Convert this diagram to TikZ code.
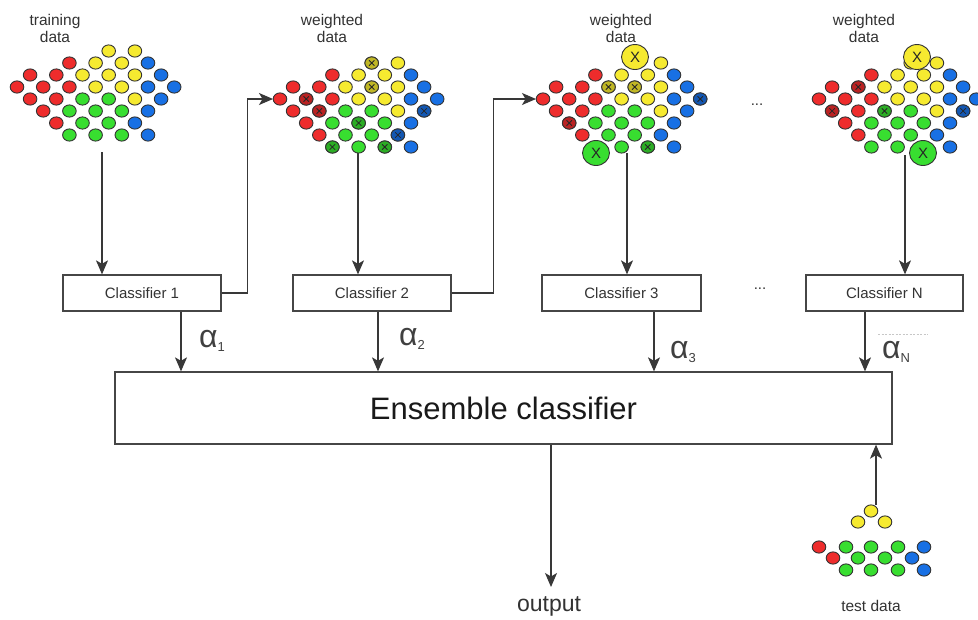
\documentclass[tikz,border=0pt]{standalone}
\usepackage{fontspec}
\setmainfont{Liberation Sans}
\usetikzlibrary{arrows.meta,calc}

\definecolor{dotR}{RGB}{238,44,44}
\definecolor{dotY}{RGB}{246,234,48}
\definecolor{dotG}{RGB}{56,222,48}
\definecolor{dotB}{RGB}{24,112,228}
\definecolor{edge}{RGB}{70,70,70}
\definecolor{ink}{RGB}{51,51,51}

% row / column / colour of every point of a data set (diamond layout)
\newcommand{\basepattern}{0/7/Y,0/9/Y,
  1/4/R,1/6/Y,1/8/Y,1/10/B,
  2/1/R,2/3/R,2/5/Y,2/7/Y,2/9/Y,2/11/B,
  3/0/R,3/2/R,3/4/R,3/6/Y,3/8/Y,3/10/B,3/12/B,
  4/1/R,4/3/R,4/5/G,4/7/G,4/9/Y,4/11/B,
  5/2/R,5/4/G,5/6/G,5/8/G,5/10/B,
  6/3/R,6/5/G,6/7/G,6/9/B,
  7/4/G,7/6/G,7/8/G,7/10/B}

\newcommand{\rx}{6.8pt}
\newcommand{\ry}{6.1pt}

% whole data set with its left/top origin
\newcommand{\drawcluster}[2]{%
  \foreach \r/\k/\c in \basepattern {
    \draw[smalldot, fill=dot\c] ({#1+13.1*\k},{#2+12*\r}) ellipse [x radius=\rx, y radius=\ry];
  }}

% re-weighted (misclassified) points, drawn darker with a cross
\newcommand{\markdots}[3]{%
  \foreach \r/\k/\c in {#3} {
    \draw[smalldot, fill=dot\c!78!black] ({#1+13.1*\k},{#2+12*\r}) ellipse [x radius=\rx, y radius=\ry];
    \draw[xmark] ({#1+13.1*\k-2.7},{#2+12*\r-2.7}) -- ++(5.4,5.4)
                 ({#1+13.1*\k-2.7},{#2+12*\r+2.7}) -- ++(5.4,-5.4);
  }}

% heavily weighted point
\newcommand{\bigdot}[4]{%
  \draw[smalldot, fill=dot#3] (#1,#2) ellipse [x radius=13.5pt, y radius=12.5pt];
  \node[text=black!85, font=\fontsize{15}{15}\selectfont, inner sep=0pt] (#4) at (#1,#2) {X};}

\newcommand{\alphalabel}[1]{{\fontsize{32}{32}\selectfont α}\raisebox{-3.5pt}{\fontsize{13}{13}\selectfont #1}}

\begin{document}
\begin{tikzpicture}[x=1pt,y=-1pt,
  smalldot/.style={draw=black!80, line width=0.9pt},
  xmark/.style={draw=black!85, line width=0.8pt},
  box/.style={draw=edge, line width=1.3pt, fill=white, inner sep=0pt, text=ink},
  clf/.style={box, minimum height=36pt, font=\fontsize{15}{15}\selectfont},
  arr/.style={draw=black!78, line width=1.2pt, -{Stealth[length=14pt,width=12pt,inset=3.5pt]}},
  lbl/.style={text=ink, align=center, font=\fontsize{15.5}{17}\selectfont, inner sep=0pt},
  alab/.style={text=black!75, anchor=west, inner sep=0pt},
  ell/.style={text=ink, anchor=base, font=\fontsize{15}{15}\selectfont, inner sep=0pt},
]
\fill[white] (0,0) rectangle (978,619);
\useasboundingbox (0,0) rectangle (978,619);

% ---- data sets ----
\drawcluster{17}{51}

\drawcluster{280}{63}
\markdots{280}{63}{0/7/Y,2/7/Y,3/2/R,4/3/R,4/11/B,5/6/G,6/9/B,7/4/G,7/8/G}

\drawcluster{543}{63}
\markdots{543}{63}{2/5/Y,2/7/Y,3/12/B,5/2/R,7/8/G}
\bigdot{635}{57}{Y}{bx3a}
\bigdot{596}{153}{G}{bx3b}

\drawcluster{819}{63}
\markdots{819}{63}{2/3/R,4/1/R,4/5/G,4/11/B}
\bigdot{917}{57}{Y}{bxNa}
\bigdot{923}{153}{G}{bxNb}

% test set
\foreach \x/\y/\c in {871/511/Y,858/522/Y,885/522/Y,
    819/547/R,846/547/G,871/547/G,898/547/G,924/547/B,
    833/558/R,858/558/G,885/558/G,912/558/B,
    846/570/G,871/570/G,898/570/G,924/570/B}
  \draw[smalldot, fill=dot\c] (\x,\y) ellipse [x radius=\rx, y radius=\ry];

% ---- labels ----
\node[lbl] (ltrain) at (55,28) {training\\data};
\node[lbl] (lw2) at (332,28) {weighted\\data};
\node[lbl] (lw3) at (621,28) {weighted\\data};
\node[lbl] (lwN) at (864,28) {weighted\\data};
\node[ell] (dotsA) at (757,105) {...};

% ---- classifiers ----
\node[clf, minimum width=158pt] (c1) at (142,293) {Classifier 1};
\node[clf, minimum width=158pt] (c2) at (372,293) {Classifier 2};
\node[clf, minimum width=159pt] (c3) at (621.5,293) {Classifier 3};
\node[clf, minimum width=157pt] (cN) at (884.5,293) {Classifier N};
\node[ell] (dotsB) at (760,289) {...};

\node[box, minimum width=777pt, minimum height=72pt, text=black!90,
      font=\fontsize{31}{31}\selectfont] (ens) at (503.5,408) {Ensemble classifier};

% ---- data -> classifier ----
\coordinate (s1) at (102,152);
\coordinate (s2) at (358,153);
\coordinate (s3) at (627,153);
\coordinate (sN) at (905,155);
\draw[arr] (s1) -- (s1 |- c1.north);
\draw[arr] (s2) -- (s2 |- c2.north);
\draw[arr] (s3) -- (s3 |- c3.north);
\draw[arr] (sN) -- (sN |- cN.north);

% ---- classifier -> next weighted set ----
\coordinate (w2in) at (273,99);
\coordinate (w3in) at (536,99);
\draw[arr] (c1.east) -- ++(26,0) |- (w2in);
\draw[arr] (c2.east) -- ++(42,0) |- (w3in);

% ---- classifier -> ensemble ----
\coordinate (a1) at (181,0);
\coordinate (a2) at (378,0);
\coordinate (a3) at (654,0);
\coordinate (aN) at (865,0);
\draw[arr] (a1 |- c1.south) -- (a1 |- ens.north);
\draw[arr] (a2 |- c2.south) -- (a2 |- ens.north);
\draw[arr] (a3 |- c3.south) -- (a3 |- ens.north);
\draw[arr] (aN |- cN.south) -- (aN |- ens.north);

\node[alab] (al1) at (199,341) {\alphalabel{1}};
\node[alab] (al2) at (399,339) {\alphalabel{2}};
\node[alab] (al3) at (670,352) {\alphalabel{3}};
\node[alab] (alN) at (882,352) {\alphalabel{N}};
\draw[black!22, line width=0.6pt, dash pattern=on 2pt off 1.5pt] (878,334) -- (928,334);

% ---- output and test input ----
\node[text=ink, font=\fontsize{23}{23}\selectfont] (out) at (549,606) {output};
\coordinate (oarr) at (551,0);
\draw[arr] (oarr |- ens.south) -- (551,587);

\node[lbl] (ltest) at (871,606) {test data};
\coordinate (tin) at (876,505);
\draw[arr] (tin) -- (tin |- ens.south);
\end{tikzpicture}
\end{document}
